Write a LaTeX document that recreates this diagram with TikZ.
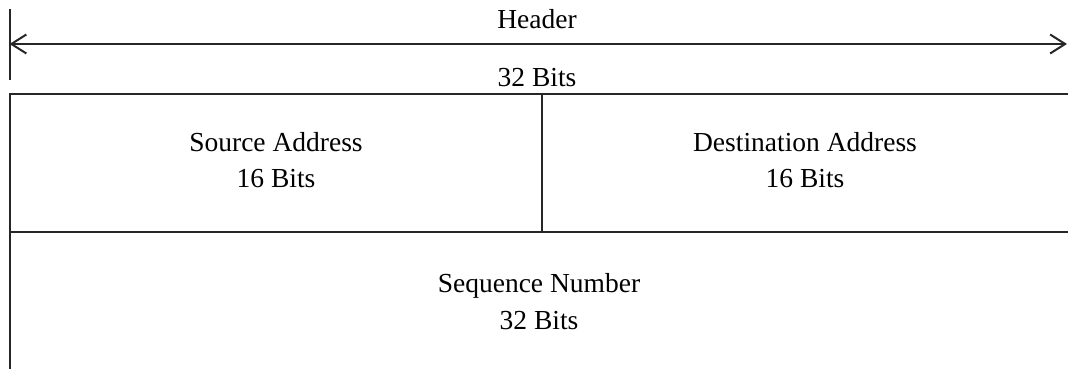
\documentclass[tikz,border=0pt]{standalone}
\usepackage{fontspec}
\setmainfont{Liberation Serif}
\usetikzlibrary{arrows.meta}
\tikzset{
  lbl/.style={anchor=base, inner sep=0pt, font=\fontsize{27.5}{36}\selectfont},
  rule/.style={line width=2pt, black!85},
  barb/.style={{Straight Barb[length=15pt,width=19pt]}-{Straight Barb[length=15pt,width=19pt]}},
}
\begin{document}
\begin{tikzpicture}[x=1pt,y=1pt]
\useasboundingbox (0,0) rectangle (1068,369);
% header span
\coordinate (hl) at (9.5,325);
\coordinate (hr) at (1067,325);
\coordinate (tick top) at (9.5,360);
\coordinate (tick bot) at (9.5,289);
\draw[rule] (tick top) -- (tick bot);
\draw[rule, barb] (hl) -- (hr);
\node[lbl] (header) at (537,340) {Header};
\node[lbl] (hbits) at (537,282) {32 Bits};
% fields
\coordinate (tl) at (9.5,275);
\coordinate (tr) at (1068,275);
\coordinate (ml) at (9.5,137);
\coordinate (mr) at (1068,137);
\coordinate (bl) at (9.5,0);
\coordinate (split top) at (542,275);
\coordinate (split bot) at (542,137);
\draw[rule] (tr) -- (tl) -- (bl);
\draw[rule] (ml) -- (mr);
\draw[rule] (split top) -- (split bot);
\node[lbl] (src) at (276,217) {Source Address};
\node[lbl] (srcbits) at (276,181) {16 Bits};
\node[lbl] (dst) at (805,217) {Destination Address};
\node[lbl] (dstbits) at (805,181) {16 Bits};
\node[lbl] (seq) at (539,76) {Sequence Number};
\node[lbl] (seqbits) at (539,39) {32 Bits};
\end{tikzpicture}
\end{document}
